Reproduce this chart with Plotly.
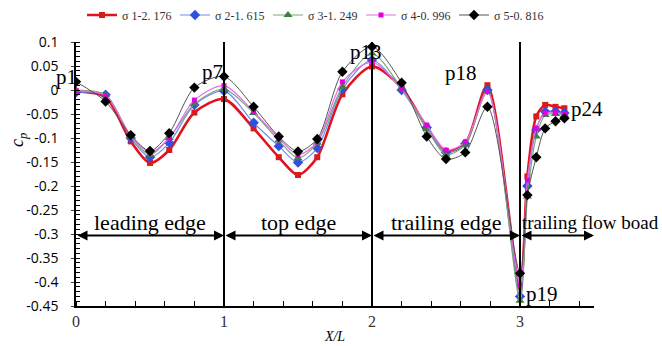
import plotly.graph_objects as go

x_pos = [0, 0.2, 0.37, 0.5, 0.63, 0.8, 1.0, 1.2, 1.37, 1.5, 1.63, 1.8, 2.0,
         2.2, 2.37, 2.5, 2.63, 2.78, 3.0, 3.05, 3.11, 3.17, 3.24, 3.30]

cp_s1 = [-0.003, -0.015, -0.107, -0.152, -0.125, -0.047, -0.019, -0.08, -0.14, -0.177, -0.14, -0.009, 0.049,
         0.005, -0.078, -0.128, -0.112, 0.01, -0.41, -0.18, -0.055, -0.031, -0.035, -0.038]
cp_s2 = [-0.005, -0.01, -0.1, -0.14, -0.11, -0.031, -0.002, -0.068, -0.117, -0.151, -0.121, 0.002, 0.0625,
         0.0, -0.078, -0.13, -0.112, 0.0, -0.43, -0.2, -0.083, -0.045, -0.045, -0.048]
cp_s3 = [0.0, -0.01, -0.097, -0.135, -0.1, -0.029, 0.002, -0.048, -0.105, -0.142, -0.11, 0.007, 0.076,
         0.003, -0.08, -0.135, -0.114, -0.003, -0.439, -0.222, -0.097, -0.052, -0.05, -0.052]
cp_s4 = [-0.002, -0.012, -0.095, -0.13, -0.1, -0.021, 0.009, -0.045, -0.1, -0.135, -0.108, 0.017, 0.058,
         0.002, -0.073, -0.125, -0.108, -0.003, -0.406, -0.188, -0.08, -0.048, -0.047, -0.05]
cp_s5 = [0.017, -0.024, -0.094, -0.127, -0.09, 0.005, 0.028, -0.035, -0.097, -0.128, -0.102, 0.038, 0.09,
         0.015, -0.097, -0.144, -0.13, -0.035, -0.382, -0.219, -0.14, -0.08, -0.065, -0.059]

series_names = ["σ 1-2. 176", "σ 2-1. 615", "σ 3-1. 249", "σ 4-0. 996", "σ 5-0. 816"]

y_tick_vals = [0.1, 0.05, 0, -0.05, -0.1, -0.15, -0.2, -0.25, -0.3, -0.35, -0.4, -0.45]
y_tick_text = ["0.1", "0.05", "0", "-0.05", "-0.1", "-0.15", "-0.2", "-0.25", "-0.3", "-0.35", "-0.4", "-0.45"]
x_tick_vals = [0, 1, 2, 3]
x_tick_text = ["0", "1", "2", "3"]

region_bounds = [0, 1, 2, 3, 3.5]
region_names = ["leading edge", "top edge", "trailing edge", "trailing flow boad"]
divider_x = [1, 2, 3]

point_labels = ["p7", "p13", "p18", "p19", "p24"]
point_label_pos = [(0.92, 0.037), (1.96, 0.08), (2.6, 0.036), (3.15, -0.425), (3.45, -0.04)]

serif = "Liberation Serif"
W, H = 662, 346
ML, MR, MT, MB = 76, 68, 42, 40
plot_w = W - ML - MR
plot_h = H - MT - MB


def px_x(p):
    return (p - ML) / plot_w


def px_y(p):
    return (H - MB - p) / plot_h


styles = [
    dict(line=dict(color="#e0141e", width=2.6), marker=dict(symbol="square", size=6, color="#d81c1c")),
    dict(line=dict(color="#6f8ff0", width=1.2), marker=dict(symbol="diamond", size=8, color="#3050e0")),
    dict(line=dict(color="#78aa78", width=1.2), marker=dict(symbol="triangle-up", size=8, color="#3f7f3f")),
    dict(line=dict(color="#e86ae8", width=1.2), marker=dict(symbol="square", size=5, color="#e000e0")),
    dict(line=dict(color="#555555", width=1.0), marker=dict(symbol="diamond", size=8, color="#000000")),
]

fig = go.Figure()
for name, ys, st in zip(series_names, [cp_s1, cp_s2, cp_s3, cp_s4, cp_s5], styles):
    fig.add_trace(go.Scatter(
        x=x_pos, y=ys, name=name, mode="lines+markers",
        line=dict(shape="spline", smoothing=0.8, **st["line"]),
        marker=st["marker"],
    ))

shapes = []
for xv in divider_x:
    shapes.append(dict(type="line", xref="x", yref="y", x0=xv, x1=xv, y0=-0.45, y1=0.1,
                       line=dict(color="black", width=2)))

annotations = []
for i in range(4):
    a, b = region_bounds[i], region_bounds[i + 1]
    annotations.append(dict(x=b, y=-0.303, ax=a, ay=-0.303, xref="x", yref="y", axref="x", ayref="y",
                            showarrow=True, arrowhead=2, startarrowhead=2, arrowside="end+start",
                            arrowsize=1, arrowwidth=2, arrowcolor="black", text=""))
    if i < 3:
        annotations.append(dict(x=(a + b) / 2, y=-0.275, xref="x", yref="y", text=region_names[i],
                                showarrow=False, font=dict(family=serif, size=22, color="black")))
    else:
        annotations.append(dict(x=px_x(W - 1), y=px_y(222), xref="paper", yref="paper",
                                text=region_names[i], xanchor="right", yanchor="middle", showarrow=False,
                                font=dict(family=serif, size=19, color="black")))

# p1 sits left of the axis, so place it in paper coordinates
annotations.append(dict(x=px_x(66), y=px_y(77), xref="paper", yref="paper", text="p1",
                        xanchor="center", yanchor="middle", showarrow=False,
                        font=dict(family=serif, size=21, color="black")))
for lab, (px, py) in zip(point_labels, point_label_pos):
    annotations.append(dict(x=px, y=py, xref="x", yref="y", text=lab, showarrow=False,
                            font=dict(family=serif, size=21, color="black")))

annotations.append(dict(x=px_x(18), y=px_y(140), xref="paper", yref="paper",
                        xanchor="center", yanchor="middle",
                        text="<i>c<sub>p</sub></i>", showarrow=False, textangle=-90,
                        font=dict(family=serif, size=18, color="black")))

fig.update_layout(
    width=W, height=H,
    margin=dict(l=ML, r=MR, t=MT, b=MB, autoexpand=False),
    plot_bgcolor="white", paper_bgcolor="white",
    shapes=shapes, annotations=annotations,
    showlegend=True,
    legend=dict(orientation="h", x=px_x(82), y=px_y(15), xanchor="left", yanchor="middle",
                font=dict(family=serif, size=12, color="#333333"),
                entrywidth=48, entrywidthmode="pixels", itemwidth=30,
                tracegroupgap=0, bgcolor="rgba(0,0,0,0)"),
    xaxis=dict(range=[0, 3.5], tickvals=x_tick_vals, ticktext=x_tick_text, ticks="",
               showline=True, linecolor="black", linewidth=1.5, showgrid=False, zeroline=False,
               automargin=False,
               minor=dict(dtick=0.2, ticks="inside", ticklen=5, tickcolor="black", showgrid=False),
               tickfont=dict(family=serif, size=16, color="#333333"),
               title=dict(text="<i>X/L</i>", font=dict(family=serif, size=14, color="black"), standoff=2)),
    yaxis=dict(range=[-0.45, 0.1], tickvals=y_tick_vals, ticktext=y_tick_text, ticks="outside", ticklen=3,
               showline=True, linecolor="black", linewidth=1.5, showgrid=False, zeroline=False,
               automargin=False, ticklabelstandoff=10,
               minor=dict(dtick=0.01, ticks="inside", ticklen=4, tickcolor="black", showgrid=False),
               tickfont=dict(family="Open Sans", size=14, color="black")),
)

fig.write_html("out.html")
